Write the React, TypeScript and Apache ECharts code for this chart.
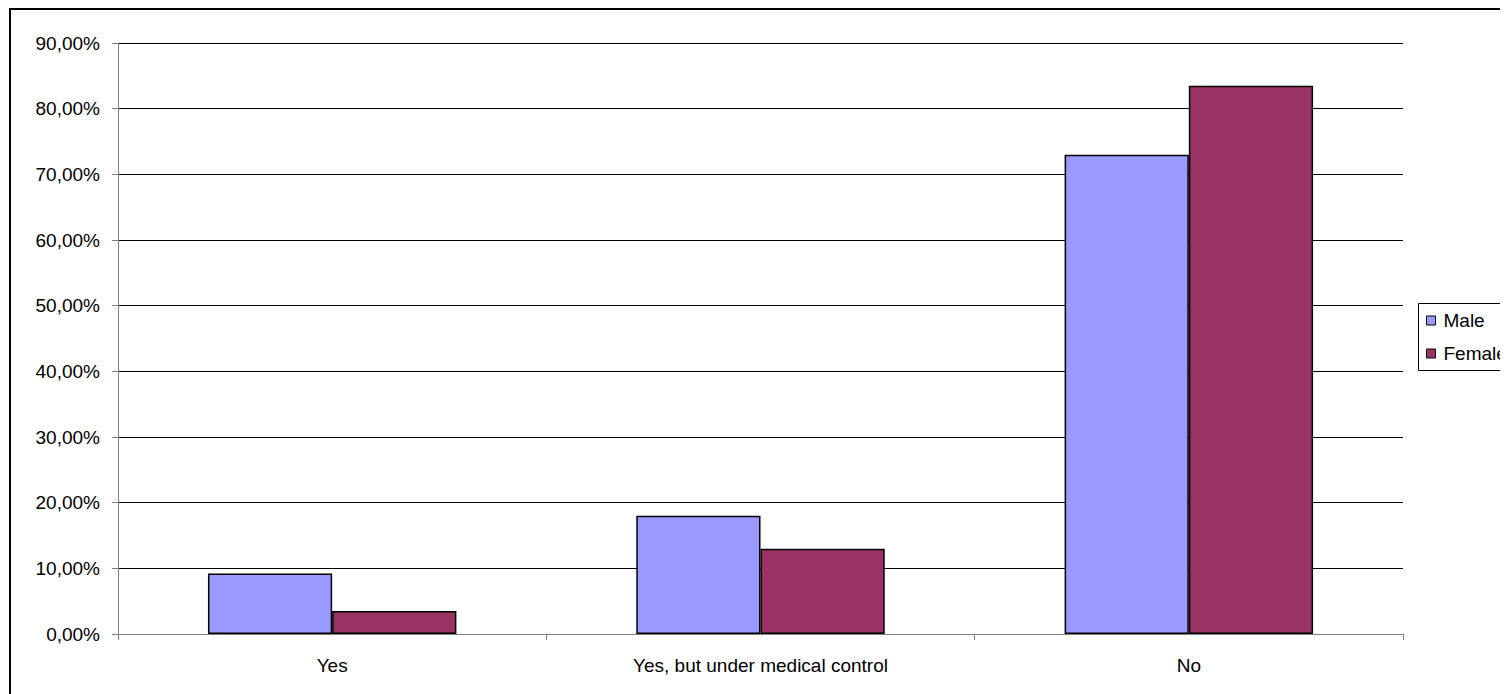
import React, { useEffect, useRef } from "react";
import * as echarts from "echarts";

// Survey answers by gender (percent of respondents)
const categories = ["Yes", "Yes, but under medical control", "No"];
const maleValues = [9.2, 18.0, 73.0];
const femaleValues = [3.5, 13.0, 83.5];
const seriesNames = ["Male", "Female"];
const seriesColors = ["#9999FF", "#993366"];

const yMin = 0;
const yMax = 90;
const yStep = 10;

const FONT = "Liberation Sans, Arial, sans-serif";
const WIDTH = 1520;
const HEIGHT = 686;

export default function App() {
  const ref = useRef<HTMLDivElement>(null);

  useEffect(() => {
    document.body.style.overflow = "hidden";
    if (!ref.current) return;
    const chart = echarts.init(ref.current, undefined, { renderer: "svg" });

    const fmt = (v: number) => v.toFixed(2).replace(".", ",") + "%";

    chart.setOption({
      animation: false,
      backgroundColor: "#ffffff",
      textStyle: { fontFamily: FONT },
      graphic: [
        // outer chart frame (runs past the right and bottom edges)
        {
          type: "rect",
          shape: { x: 2, y: 1, width: 3000, height: 3000 },
          style: { fill: "none", stroke: "#000000", lineWidth: 2 },
          silent: true,
          z: 100,
        },
        // legend frame
        {
          type: "rect",
          shape: { x: 1410.5, y: 295.5, width: 300, height: 67 },
          style: { fill: "none", stroke: "#000000", lineWidth: 1 },
          silent: true,
          z: 100,
        },
      ],
      grid: { left: 110, right: WIDTH - 1395, top: 35, bottom: HEIGHT - 626, containLabel: false },
      legend: {
        orient: "vertical",
        left: 1410,
        top: 296,
        padding: [7, 10, 7, 8],
        itemWidth: 9,
        itemHeight: 9,
        itemGap: 14,
        icon: "rect",
        borderWidth: 0,
        textStyle: { fontFamily: FONT, fontSize: 19, color: "#000000", padding: [0, 0, 0, 3] },
        data: seriesNames.map((n, i) => ({
          name: n,
          itemStyle: { color: seriesColors[i], borderColor: "#000000", borderWidth: 1 },
        })),
      },
      xAxis: {
        type: "category",
        data: categories,
        axisLine: { lineStyle: { color: "#808080", width: 1 } },
        axisTick: { show: true, length: 6, lineStyle: { color: "#808080" } },
        axisLabel: { fontFamily: FONT, fontSize: 19, color: "#000000", margin: 22 },
        splitLine: { show: false },
      },
      yAxis: {
        type: "value",
        min: yMin,
        max: yMax,
        interval: yStep,
        axisLine: { show: true, lineStyle: { color: "#808080", width: 1 } },
        axisTick: { show: true, length: 6, lineStyle: { color: "#808080" } },
        axisLabel: {
          fontFamily: FONT,
          fontSize: 19,
          color: "#000000",
          margin: 18,
          formatter: fmt,
        },
        splitLine: { show: true, lineStyle: { color: "#000000", width: 1 } },
      },
      series: [
        {
          name: seriesNames[0],
          type: "bar",
          data: maleValues,
          barGap: "0%",
          barCategoryGap: "42%",
          itemStyle: { color: seriesColors[0], borderColor: "#000000", borderWidth: 1.5 },
        },
        {
          name: seriesNames[1],
          type: "bar",
          data: femaleValues,
          barGap: "0%",
          barCategoryGap: "42%",
          itemStyle: { color: seriesColors[1], borderColor: "#000000", borderWidth: 1.5 },
        },
      ],
    });

    return () => {
      chart.dispose();
    };
  }, []);

  return <div ref={ref} style={{ width: WIDTH, height: HEIGHT }} />;
}
